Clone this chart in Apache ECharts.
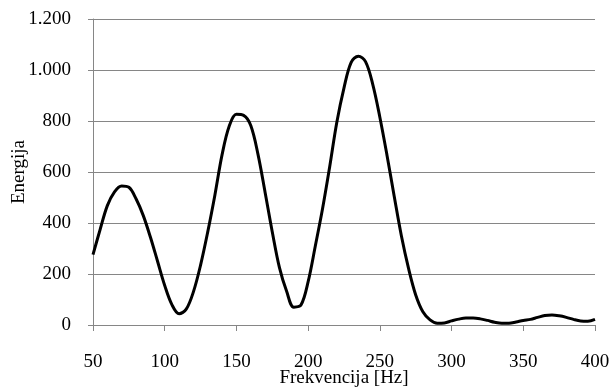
<!DOCTYPE html>
<html>
<head>
<meta charset="utf-8">
<script src="https://cdn.jsdelivr.net/npm/echarts@6/dist/echarts.min.js"></script>
<style>
  html, body { margin: 0; padding: 0; background: #fff; }
  #chart { width: 611px; height: 387px; }
</style>
</head>
<body>
<div id="chart"></div>
<script>
// frequency (Hz) and energy, every 5 Hz
const freq = [
  50, 55, 60, 65, 70, 75, 80, 85, 90, 95,
  100, 105, 110, 115, 120, 125, 130, 135, 140, 145,
  150, 155, 160, 165, 170, 175, 180, 185, 190, 195,
  200, 205, 210, 215, 220, 225, 230, 235, 240, 245,
  250, 255, 260, 265, 270, 275, 280, 285, 290, 295,
  300, 305, 310, 315, 320, 325, 330, 335, 340, 345,
  350, 355, 360, 365, 370, 375, 380, 385, 390, 395, 400
]
const energy = [
  276, 375, 468, 522, 545, 540, 495, 430, 345, 250,
  155, 80, 44, 62, 130, 235, 365, 510, 668, 780,
  826, 822, 782, 670, 520, 365, 225, 132, 70, 78,
  170, 310, 455, 620, 795, 930, 1030, 1054, 1033, 945,
  815, 665, 505, 350, 222, 118, 52, 20, 7, 8,
  16, 23, 27, 27, 24, 18, 11, 7, 7, 12,
  18, 22, 30, 37, 39, 36, 30, 22, 16, 15, 22
]
const yTicks = [0, 200, 400, 600, 800, 1000, 1200]

const chart = echarts.init(document.getElementById('chart'))
const font = 'Liberation Serif'

chart.setOption({
  animation: false,
  grid: { left: 93, right: 16, top: 19, bottom: 62, outerBoundsMode: 'none', containLabel: false },
  xAxis: {
    type: 'value',
    min: 50,
    max: 400,
    interval: 50,
    name: 'Frekvencija [Hz]',
    nameLocation: 'middle',
    nameGap: 44,
    nameMoveOverlap: false,
    nameTextStyle: { fontFamily: font, fontSize: 19, color: '#000' },
    axisLine: { show: true, lineStyle: { color: '#868686', width: 1 } },
    axisTick: { show: true, length: 6, lineStyle: { color: '#868686' } },
    axisLabel: { fontFamily: font, fontSize: 19, color: '#000', margin: 28 },
    splitLine: { show: false }
  },
  yAxis: {
    type: 'value',
    min: yTicks[0],
    max: yTicks[yTicks.length - 1],
    interval: 200,
    name: 'Energija',
    nameLocation: 'middle',
    nameGap: 64,
    nameMoveOverlap: false,
    nameRotate: 90,
    nameTextStyle: { fontFamily: font, fontSize: 19, color: '#000' },
    axisLine: { show: true, lineStyle: { color: '#868686', width: 1 } },
    axisTick: { show: true, length: 5, lineStyle: { color: '#868686' } },
    axisLabel: {
      fontFamily: font,
      fontSize: 19,
      color: '#000',
      margin: 22,
      formatter: v => String(v).replace(/\B(?=(\d{3})+(?!\d))/g, '.')
    },
    splitLine: { show: true, lineStyle: { color: '#868686', width: 1 } }
  },
  series: [{
    type: 'line',
    data: freq.map((f, i) => [f, energy[i]]),
    smooth: 0.35,
    showSymbol: false,
    lineStyle: { color: '#000', width: 3 }
  }]
})
</script>
</body>
</html>
